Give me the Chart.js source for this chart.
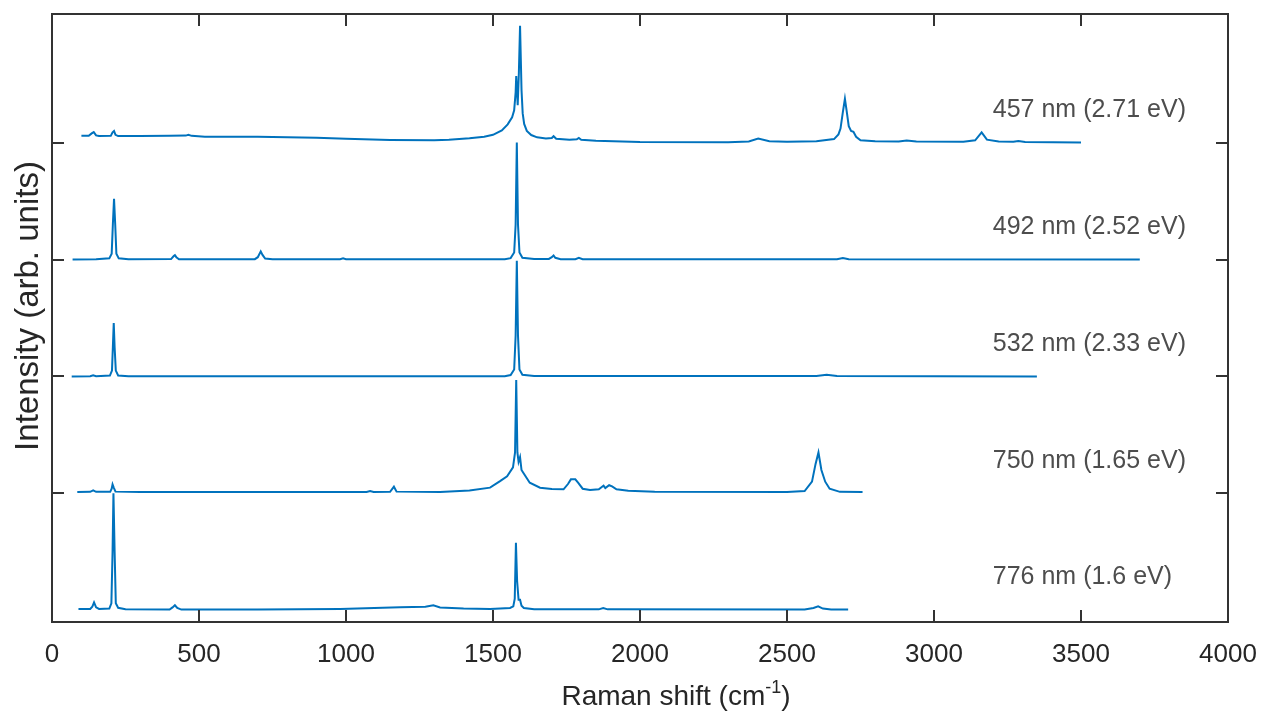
<!DOCTYPE html>
<html>
<head>
	<meta charset="utf-8">
	<title>Raman spectra</title>
	<script src="https://cdn.jsdelivr.net/npm/chart.js@4.4.0/dist/chart.umd.min.js"></script>
	<style>
		body { margin: 0; background: #fff; }
		canvas { display: block; }
	</style>
</head>
<body>

	<canvas id="mychart" width="1263" height="715"></canvas>

	<script type="text/javascript">

		// spectra (values include the vertical offset of each trace)
		const shift457 = [100,125,135,142,150,160,200,206,211,216,225,300,400,455,464,475,520,700,900,1000,1150,1300,1350,1420,1470,1500,1530,1550,1565,1572,1577,1579,1584,1588,1592,1597,1601,1606,1615,1630,1650,1680,1700,1706,1715,1760,1785,1792,1800,1850,2000,2300,2370,2402,2440,2500,2600,2660,2675,2682,2690,2697,2703,2710,2718,2726,2735,2750,2800,2880,2907,2940,3100,3140,3162,3180,3220,3270,3287,3310,3500];
		const intensity457 = [4.058,4.058,4.079,4.09,4.062,4.056,4.058,4.088,4.099,4.067,4.056,4.056,4.058,4.06,4.067,4.058,4.051,4.051,4.041,4.032,4.022,4.02,4.024,4.037,4.05,4.067,4.105,4.156,4.216,4.276,4.43,4.57,4.32,4.6,5.0,4.45,4.25,4.16,4.1,4.065,4.045,4.035,4.04,4.055,4.033,4.025,4.028,4.04,4.025,4.015,4.005,4.004,4.01,4.035,4.012,4.008,4.012,4.03,4.07,4.12,4.26,4.375,4.27,4.14,4.1,4.092,4.05,4.02,4.012,4.01,4.018,4.01,4.008,4.02,4.088,4.025,4.01,4.008,4.013,4.006,4.0];

		const shift492 = [70,150,195,203,207,211,215,219,227,260,405,414,418,423,432,690,700,710,716,725,750,980,990,1000,1540,1560,1572,1577,1581,1585,1590,1600,1640,1690,1700,1706,1712,1730,1780,1792,1805,2670,2690,2710,3700];
		const intensity492 = [3.0,3.002,3.01,3.05,3.3,3.52,3.3,3.05,3.01,3.002,3.004,3.03,3.037,3.02,3.003,3.003,3.02,3.07,3.04,3.008,3.002,3.003,3.01,3.003,3.003,3.012,3.06,3.3,4.0,3.3,3.06,3.015,3.005,3.005,3.02,3.035,3.015,3.003,3.003,3.014,3.003,3.003,3.014,3.003,3.0];

		const shift532 = [67,130,140,150,197,204,207,210,213,217,225,260,1540,1560,1572,1577,1581,1585,1590,1600,1640,2600,2635,2670,3350];
		const intensity532 = [2.0,2.002,2.01,2.002,2.008,2.05,2.25,2.456,2.25,2.05,2.008,2.002,2.002,2.012,2.06,2.35,2.99,2.35,2.06,2.015,2.004,2.003,2.014,2.003,2.0];

		const shift750 = [86,130,140,150,198,203,206,210,216,300,700,1070,1082,1094,1150,1163,1172,1320,1420,1490,1524,1548,1568,1575,1579,1583,1587,1592,1597,1603,1625,1660,1700,1740,1755,1765,1780,1790,1805,1830,1860,1870,1876,1882,1895,1905,1920,1960,2050,2500,2560,2585,2597,2607,2617,2630,2645,2680,2757];
		const intensity750 = [1.011,1.013,1.025,1.013,1.013,1.04,1.077,1.05,1.015,1.011,1.011,1.012,1.02,1.012,1.013,1.057,1.015,1.011,1.025,1.049,1.105,1.147,1.222,1.35,1.97,1.35,1.27,1.31,1.2,1.176,1.091,1.049,1.037,1.035,1.08,1.12,1.12,1.09,1.04,1.03,1.035,1.055,1.066,1.045,1.07,1.06,1.035,1.022,1.013,1.011,1.02,1.1,1.25,1.35,1.2,1.1,1.04,1.013,1.011];

		const shift776 = [90,130,137,143,150,160,195,202,206,209,213,217,225,250,400,410,418,426,440,700,980,1184,1270,1297,1320,1400,1490,1558,1569,1574,1578,1582,1587,1592,1597,1605,1640,1860,1875,1890,2560,2590,2606,2622,2650,2708];
		const intensity776 = [0.012,0.012,0.03,0.068,0.025,0.012,0.015,0.06,0.5,1.0,0.5,0.06,0.022,0.01,0.006,0.025,0.043,0.02,0.006,0.006,0.012,0.026,0.03,0.043,0.025,0.016,0.012,0.02,0.034,0.1,0.578,0.25,0.09,0.09,0.04,0.02,0.009,0.008,0.02,0.008,0.006,0.02,0.034,0.015,0.006,0.006];

		const traceLabels = ['457 nm (2.71 eV)', '492 nm (2.52 eV)', '532 nm (2.33 eV)', '750 nm (1.65 eV)', '776 nm (1.6 eV)'];
		const baselines = [4, 3, 2, 1, 0];
		const xTicks = [0, 500, 1000, 1500, 2000, 2500, 3000, 3500, 4000];

		const shifts = [shift457, shift492, shift532, shift750, shift776];
		const intensities = [intensity457, intensity492, intensity532, intensity750, intensity776];

		const FONT = '"Liberation Sans", Arial, sans-serif';

		// box, inward ticks on all four sides, trace labels and axis titles
		const frame = {
			id: 'frame',
			afterDraw(chart) {
				const {ctx, chartArea: a, scales: {x, y}} = chart;
				const tl = 12;
				ctx.save();
				ctx.strokeStyle = '#333';
				ctx.lineWidth = 2;
				ctx.strokeRect(a.left, a.top, a.right - a.left, a.bottom - a.top);
				ctx.beginPath();
				xTicks.forEach(v => {
					const px = Math.round(x.getPixelForValue(v));
					ctx.moveTo(px, a.bottom); ctx.lineTo(px, a.bottom - tl);
					ctx.moveTo(px, a.top); ctx.lineTo(px, a.top + tl);
				});
				y.ticks.filter(t => Math.abs(t.value - Math.round(t.value)) < 1e-9).forEach(t => {
					const py = Math.round(y.getPixelForValue(t.value));
					ctx.moveTo(a.left, py); ctx.lineTo(a.left + tl, py);
					ctx.moveTo(a.right, py); ctx.lineTo(a.right - tl, py);
				});
				ctx.stroke();

				ctx.fillStyle = '#4d4d4d';
				ctx.font = '25px ' + FONT;
				ctx.textAlign = 'left';
				ctx.textBaseline = 'middle';
				traceLabels.forEach((lab, i) => {
					ctx.fillText(lab, x.getPixelForValue(3200), y.getPixelForValue(baselines[i] + 0.28));
				});

				// x title with superscript
				ctx.fillStyle = '#262626';
				ctx.textBaseline = 'alphabetic';
				const big = '28px ' + FONT, small = '18px ' + FONT;
				ctx.font = big;
				const w1 = ctx.measureText('Raman shift (cm').width;
				const w3 = ctx.measureText(')').width;
				ctx.font = small;
				const w2 = ctx.measureText('-1').width;
				let sx = 676 - (w1 + w2 + w3) / 2;
				const by = 705;
				ctx.font = big;
				ctx.fillText('Raman shift (cm', sx, by);
				ctx.font = small;
				ctx.fillText('-1', sx + w1, by - 12);
				ctx.font = big;
				ctx.fillText(')', sx + w1 + w2, by);

				// y title
				ctx.font = '33px ' + FONT;
				ctx.translate(29, 306);
				ctx.rotate(-Math.PI / 2);
				ctx.textAlign = 'center';
				ctx.textBaseline = 'middle';
				ctx.fillText('Intensity (arb. units)', 0, 0);
				ctx.restore();
			}
		};

		const ctx = document.getElementById('mychart').getContext('2d');

		const myChart = new Chart(ctx, {
			type: 'line',
			data: {
				datasets: shifts.map((xs, i) => ({
					label: traceLabels[i],
					data: xs.map((v, j) => ({x: v, y: intensities[i][j]})),
					borderColor: '#0072BD',
					borderWidth: 2,
					pointRadius: 0,
					fill: false,
					tension: 0
				}))
			},
			options: {
				responsive: false,
				animation: false,
				layout: { padding: { top: 14, right: 35, left: 0, bottom: 0 } },
				plugins: { legend: { display: false }, tooltip: { enabled: false } },
				scales: {
					x: {
						type: 'linear', min: 0, max: 4000,
						ticks: { stepSize: 500, color: '#262626', font: { family: FONT, size: 26 }, padding: 17, maxRotation: 0, callback: v => String(v) },
						grid: { display: false, drawTicks: false },
						border: { display: false },
						afterFit: s => { s.height = 93; s.paddingLeft = 0; s.paddingRight = 0; }
					},
					y: {
						min: -0.1, max: 5.1,
						ticks: { display: false, stepSize: 1 },
						grid: { display: false, drawTicks: false },
						border: { display: false },
						afterFit: s => { s.width = 52; }
					}
				}
			},
			plugins: [frame]
		});

	</script>

</body>
</html>
